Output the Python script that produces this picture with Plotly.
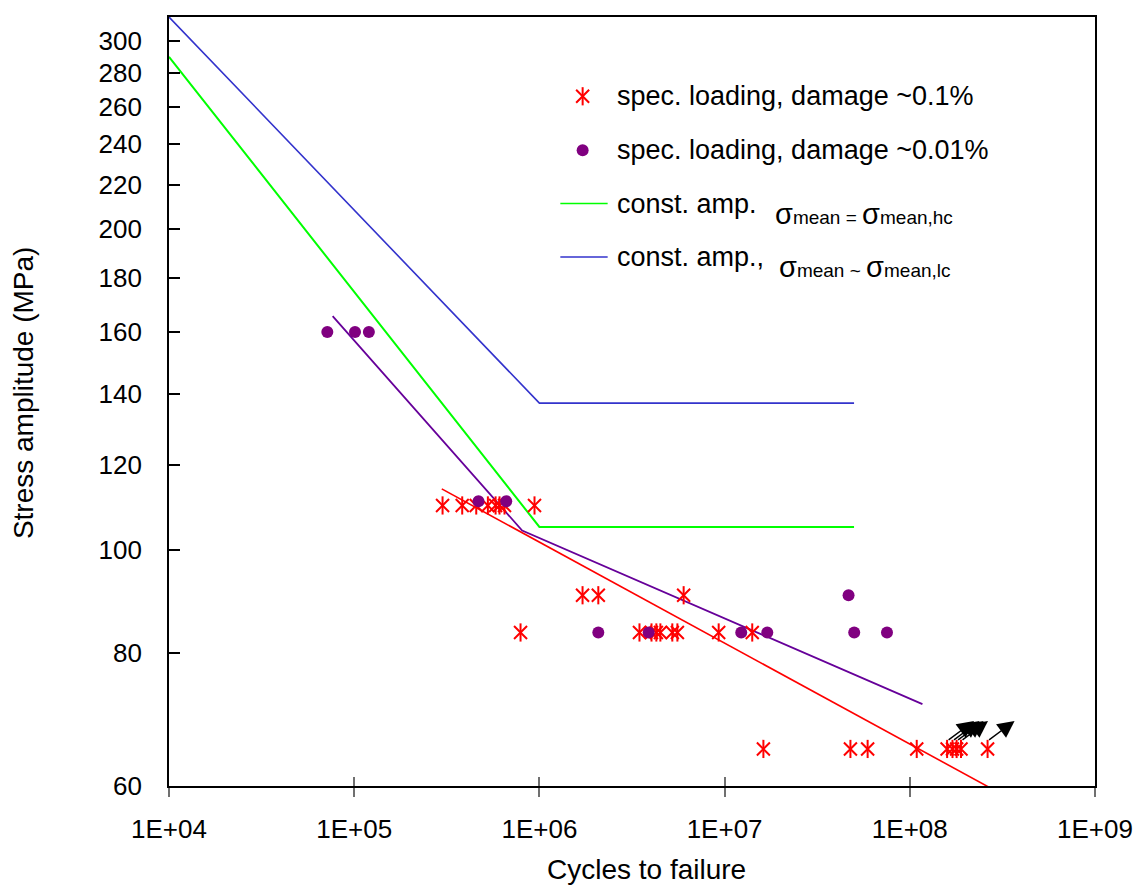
import math
import plotly.graph_objects as go

# ---------------- data ----------------
# spec. loading, damage ~0.1%  (asterisks)
ast_x = [3.0e5, 3.83e5, 4.56e5, 5.27e5, 5.8e5, 6.09e5, 6.48e5, 9.41e5,
         1.71e6, 2.08e6, 6.01e6,
         7.91e5, 3.47e6, 4.03e6, 4.28e6, 4.5e6, 5.22e6, 5.56e6, 9.29e6, 1.41e7,
         1.62e7, 4.78e7, 5.92e7, 1.09e8, 1.59e8, 1.70e8, 1.79e8, 1.89e8, 2.63e8]
ast_y = [110, 110, 110, 110, 110, 110, 110, 110,
         90.6, 90.6, 90.6,
         83.6, 83.6, 83.6, 83.6, 83.6, 83.6, 83.6, 83.6, 83.6,
         65, 65, 65, 65, 65, 65, 65, 65, 65]

# spec. loading, damage ~0.01%  (dots)
dot_x = [7.16e4, 1.01e5, 1.20e5, 4.69e5, 6.62e5,
         2.08e6, 3.89e6, 1.23e7, 1.70e7, 5.01e7, 7.53e7, 4.67e7]
dot_y = [160, 160, 160, 111, 111,
         83.6, 83.6, 83.6, 83.6, 83.6, 83.6, 90.6]

# run-outs (arrows)
runout_x = [1.59e8, 1.70e8, 1.79e8, 1.89e8, 2.63e8]
runout_y = [65, 65, 65, 65, 65]

# const. amp. sigma_mean = sigma_mean,hc
green_x = [1e4, 1e6, 5e7]
green_y = [290, 105, 105]
# const. amp. sigma_mean ~ sigma_mean,lc
blue_x = [1e4, 1e6, 5e7]
blue_y = [316, 137.2, 137.2]
# fitted curve, damage ~0.01%
purple_x = [7.65e4, 8.07e5, 1.17e8]
purple_y = [165.6, 104.2, 71.6]
# fitted curve, damage ~0.1%
red_x = [2.97e5, 3.0e8]
red_y = [114, 59.2]

x_ticks = [1e4, 1e5, 1e6, 1e7, 1e8, 1e9]
x_ticktext = ["1E+04", "1E+05", "1E+06", "1E+07", "1E+08", "1E+09"]
y_ticks = [60, 80, 100, 120, 140, 160, 180, 200, 220, 240, 260, 280, 300]
y_ticktext = [str(v) for v in y_ticks]

legend_labels = ["spec. loading, damage ~0.1%", "spec. loading, damage ~0.01%",
                 "const. amp.", "const. amp.,"]

# ---------------- styling ----------------
FONT = "Liberation Sans, Arial, sans-serif"
RED = "#FF0000"
PURPLE = "#800080"
PURPLE_LINE = "#660099"
GREEN = "#00FF00"
BLUE = "#3333CC"

fig = go.Figure()

fig.add_trace(go.Scatter(x=blue_x, y=blue_y, mode="lines",
                         line=dict(color=BLUE, width=1.6), showlegend=False))
fig.add_trace(go.Scatter(x=green_x, y=green_y, mode="lines",
                         line=dict(color=GREEN, width=2), showlegend=False))
fig.add_trace(go.Scatter(x=purple_x, y=purple_y, mode="lines",
                         line=dict(color=PURPLE_LINE, width=1.8), showlegend=False))
fig.add_trace(go.Scatter(x=red_x, y=red_y, mode="lines",
                         line=dict(color=RED, width=1.6), showlegend=False))

# asterisk = x + vertical bar
AST1 = dict(symbol="x-thin-open", size=13, color=RED, line=dict(color=RED, width=2))
AST2 = dict(symbol="line-ns-open", size=13, color=RED, line=dict(color=RED, width=2))
DOT = dict(symbol="circle", size=12, color=PURPLE, line=dict(width=0))

fig.add_trace(go.Scatter(x=ast_x, y=ast_y, mode="markers", marker=AST1, showlegend=False))
fig.add_trace(go.Scatter(x=ast_x, y=ast_y, mode="markers", marker=AST2, showlegend=False))
fig.add_trace(go.Scatter(x=dot_x, y=dot_y, mode="markers", marker=DOT, showlegend=False))

# ---- manual legend on a hidden overlay axis (0..1 over plot area) ----
leg_mx = 0.4467
leg_y = [0.8969, 0.8267, 0.7574, 0.688]
fig.add_trace(go.Scatter(x=[leg_mx], y=[leg_y[0]], xaxis="x3", yaxis="y3", mode="markers",
                         marker=AST1, showlegend=False))
fig.add_trace(go.Scatter(x=[leg_mx], y=[leg_y[0]], xaxis="x3", yaxis="y3", mode="markers",
                         marker=AST2, showlegend=False))
fig.add_trace(go.Scatter(x=[leg_mx], y=[leg_y[1]], xaxis="x3", yaxis="y3", mode="markers",
                         marker=DOT, showlegend=False))
fig.add_trace(go.Scatter(x=[0.4226, 0.4737], y=[leg_y[2], leg_y[2]], xaxis="x3", yaxis="y3",
                         mode="lines", line=dict(color=GREEN, width=1.6), showlegend=False))
fig.add_trace(go.Scatter(x=[0.4226, 0.4737], y=[leg_y[3], leg_y[3]], xaxis="x3", yaxis="y3",
                         mode="lines", line=dict(color=BLUE, width=1.6), showlegend=False))

annotations = []
for lab, yy in zip(legend_labels, leg_y):
    annotations.append(dict(x=0.4812, y=yy, xref="paper", yref="paper", text=lab,
                            showarrow=False, xanchor="left", yanchor="middle",
                            font=dict(family=FONT, size=27, color="black")))
sig_hc = ("<span style='font-size:29px'>σ</span>mean = "
          "<span style='font-size:29px'>σ</span>mean,hc")
sig_lc = ("<span style='font-size:29px'>σ</span>mean ~ "
          "<span style='font-size:29px'>σ</span>mean,lc")
annotations.append(dict(x=0.6518, y=0.744, xref="paper", yref="paper", text=sig_hc,
                        showarrow=False, xanchor="left", yanchor="middle",
                        font=dict(family=FONT, size=19, color="black")))
annotations.append(dict(x=0.6561, y=0.675, xref="paper", yref="paper", text=sig_lc,
                        showarrow=False, xanchor="left", yanchor="middle",
                        font=dict(family=FONT, size=19, color="black")))

# run-out arrows (log axes: annotation positions in log10 units)
for rx, ry in zip(runout_x, runout_y):
    annotations.append(dict(x=math.log10(rx), y=math.log10(ry), xref="x", yref="y",
                            text="", showarrow=True,
                            xshift=27, yshift=28, ax=-27, ay=20,
                            arrowhead=2, arrowsize=2.4, arrowwidth=1.4,
                            arrowcolor="black", standoff=0))

# axis titles
annotations.append(dict(x=0.516, y=-0.109, xref="paper", yref="paper",
                        text="Cycles to failure", showarrow=False,
                        xanchor="center", yanchor="middle",
                        font=dict(family=FONT, size=28, color="black")))
annotations.append(dict(x=-0.157, y=0.5117, xref="paper", yref="paper",
                        text="Stress amplitude (MPa)", showarrow=False, textangle=-90,
                        xanchor="center", yanchor="middle",
                        font=dict(family=FONT, size=28, color="black")))

fig.update_layout(
    width=1145, height=886,
    margin=dict(l=169, r=50, t=17, b=100, autoexpand=False),
    paper_bgcolor="white", plot_bgcolor="white",
    font=dict(family=FONT, size=26, color="black"),
    showlegend=False,
    annotations=annotations,
    xaxis=dict(type="log", range=[4, 9], tickvals=x_ticks, ticktext=x_ticktext,
               ticks="outside", ticklen=9, tickwidth=1.5, tickcolor="#707070",
               showline=True, linecolor="black", linewidth=1.8, mirror=True,
               showgrid=False, zeroline=False, ticklabelstandoff=10,
               tickfont=dict(family=FONT, size=26, color="black")),
    xaxis2=dict(type="log", range=[4, 9], tickvals=x_ticks, overlaying="x",
                anchor="y", side="bottom", showticklabels=False,
                ticks="inside", ticklen=9, tickwidth=1.5, tickcolor="#707070",
                showline=False, showgrid=False, zeroline=False),
    yaxis=dict(type="log", range=[1.778151, 2.4997], tickvals=y_ticks, ticktext=y_ticktext,
               ticks="inside", ticklen=11, tickwidth=1.5, tickcolor="black",
               showline=True, linecolor="black", linewidth=1.8, mirror=True,
               showgrid=False, zeroline=False, ticklabelstandoff=20,
               tickfont=dict(family=FONT, size=26, color="black")),
    xaxis3=dict(range=[0, 1], overlaying="x", visible=False, anchor="y3"),
    yaxis3=dict(range=[0, 1], overlaying="y", visible=False, anchor="x3"),
)

# invisible trace so the overlay x axis (crossing ticks) is drawn
fig.add_trace(go.Scatter(x=[1e4], y=[60], xaxis="x2", yaxis="y", mode="markers",
                         marker=dict(size=0.1, opacity=0), showlegend=False, hoverinfo="skip"))

fig.write_html("out.html")
